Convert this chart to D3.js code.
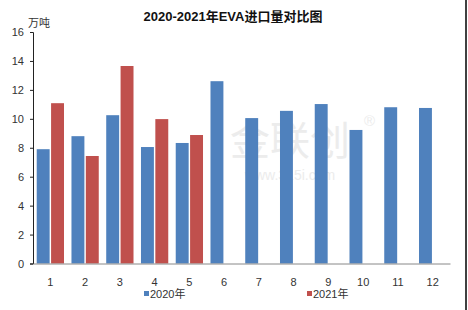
<!DOCTYPE html>
<html lang="zh">
<head>
    <meta charset="UTF-8">
    <title>2020-2021年EVA进口量对比图</title>
    <script src="https://d3js.org/d3.v7.min.js"></script>
    <style>
        body { margin: 0; background: #fff; }
        svg { display: block; font-family: "Liberation Sans", Arial, "Noto Sans CJK SC", sans-serif; }
    </style>
</head>
<body>
    <div id="chart"></div>
    <script>
        // 月份
        var months = ["1", "2", "3", "4", "5", "6", "7", "8", "9", "10", "11", "12"];
        var series = ["2020年", "2021年"];
        // 进口量（万吨）
        var values2020 = [7.9, 8.8, 10.25, 8.05, 8.33, 12.6, 10.05, 10.55, 11.02, 9.23, 10.8, 10.75];
        var values2021 = [11.08, 7.43, 13.65, 9.98, 8.88];
        var yTicks = [0, 2, 4, 6, 8, 10, 12, 14, 16];

        var width = 468, height = 310;
        var margin = { top: 32, right: 18, bottom: 46.5, left: 33 };
        var color = d3.scaleOrdinal().domain(series).range(["#4F81BD", "#C0504D"]);

        var svg = d3.select("#chart").append("svg")
            .attr("width", width)
            .attr("height", height);

        var x = d3.scaleBand()
            .domain(months)
            .range([margin.left, width - margin.right])
            .paddingInner(0.215)
            .paddingOuter(0.107);

        var x1 = d3.scaleBand()
            .domain(series)
            .range([0, x.bandwidth()])
            .paddingInner(0.1);

        var y = d3.scaleLinear()
            .domain([0, 16])
            .range([height - margin.bottom, margin.top]);

        // 水印
        var wm = svg.append("g").attr("fill", "#ececec");
        wm.append("text")
            .attr("x", 290).attr("y", 155)
            .attr("text-anchor", "middle")
            .style("font-size", "40px")
            .style("font-family", "'Noto Sans CJK SC', sans-serif")
            .text("金联创");
        wm.append("text")
            .attr("x", 290).attr("y", 180)
            .attr("text-anchor", "middle")
            .style("font-size", "14px")
            .text("www.315i.com");
        wm.append("text")
            .attr("x", 364).attr("y", 126)
            .style("font-size", "15px")
            .text("®");

        var data = months.map(function(m, i) {
            return {
                month: m,
                vals: [
                    { key: series[0], value: values2020[i] },
                    { key: series[1], value: values2021[i] }
                ].filter(function(d) { return d.value != null; })
            };
        });

        var groups = svg.selectAll(".grp")
            .data(data)
            .enter().append("g")
            .attr("class", "grp")
            .attr("transform", function(d) { return "translate(" + x(d.month) + ",0)"; });

        groups.selectAll("rect")
            .data(function(d) { return d.vals; })
            .enter().append("rect")
            .attr("x", function(d) { return x1(d.key); })
            .attr("y", function(d) { return y(d.value); })
            .attr("width", x1.bandwidth())
            .attr("height", function(d) { return y(0) - y(d.value); })
            .attr("fill", function(d) { return color(d.key); });

        // y 轴
        var yAxis = svg.append("g")
            .attr("transform", "translate(" + margin.left + ",0)")
            .call(d3.axisLeft(y).tickValues(yTicks).tickSize(3).tickSizeOuter(3));
        yAxis.select(".domain").attr("stroke", "#222");
        yAxis.selectAll(".tick line").attr("stroke", "#222");
        yAxis.selectAll("text")
            .attr("x", -9)
            .attr("fill", "#333")
            .style("font-size", "11px");

        // x 轴
        var xAxis = svg.append("g")
            .attr("transform", "translate(0," + y(0) + ")")
            .call(d3.axisBottom(x).tickSize(0).tickSizeOuter(0));
        xAxis.select(".domain").attr("stroke", "#888");
        xAxis.selectAll("text")
            .attr("dy", "1.75em")
            .attr("fill", "#333")
            .style("font-size", "11px");

        // 标题
        svg.append("text")
            .attr("x", 233).attr("y", 21)
            .attr("text-anchor", "middle")
            .style("font-size", "13px")
            .style("font-weight", "bold")
            .attr("fill", "#111")
            .text("2020-2021年EVA进口量对比图");

        svg.append("text")
            .attr("x", 28).attr("y", 27)
            .style("font-size", "11px")
            .attr("fill", "#333")
            .text("万吨");

        // 图例
        var legendX = [144, 307];
        var legend = svg.selectAll(".legend")
            .data(series)
            .enter().append("g")
            .attr("class", "legend")
            .attr("transform", function(d, i) { return "translate(" + legendX[i] + ",298)"; });
        legend.append("rect")
            .attr("x", 0).attr("y", -7)
            .attr("width", 5).attr("height", 5)
            .attr("fill", function(d) { return color(d); });
        legend.append("text")
            .attr("x", 6).attr("y", 0)
            .style("font-size", "11px")
            .attr("fill", "#333")
            .text(function(d) { return d; });

        // 右侧边框
        svg.append("line")
            .attr("x1", 466).attr("x2", 466)
            .attr("y1", 0).attr("y2", height)
            .attr("stroke", "#000")
            .attr("stroke-width", 1.5);
    </script>
</body>
</html>
